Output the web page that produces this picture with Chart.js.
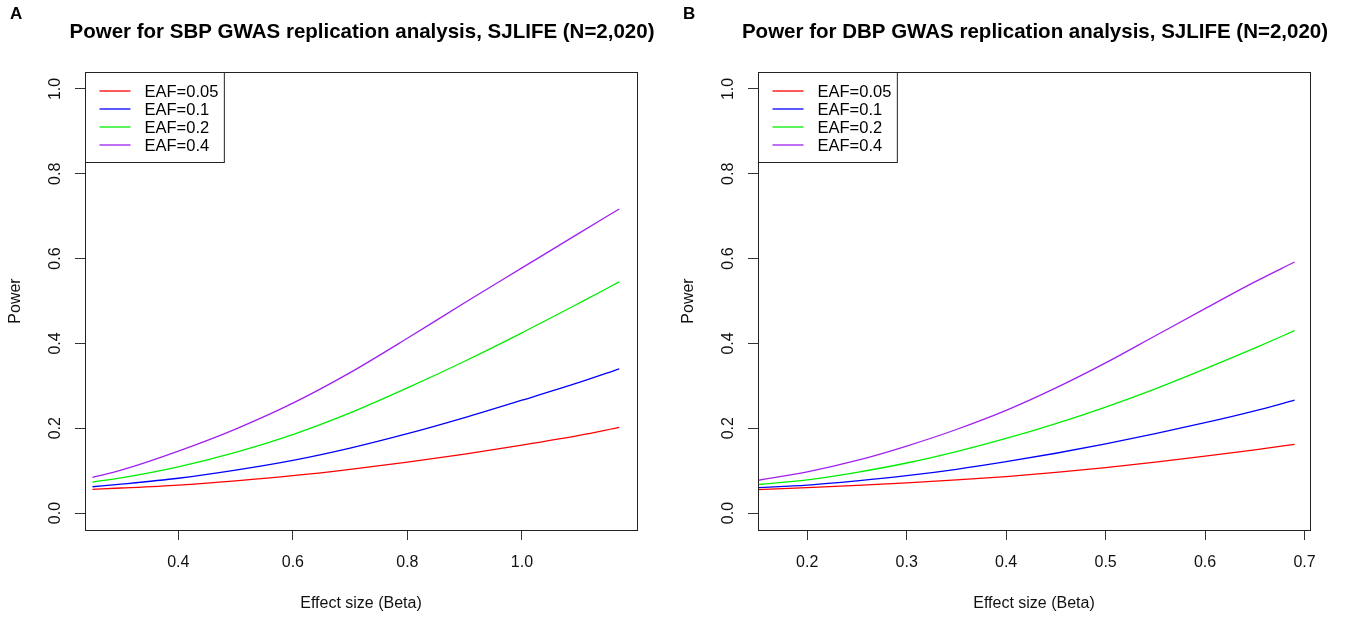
<!DOCTYPE html>
<html>
<head>
<meta charset="utf-8">
<script src="https://cdn.jsdelivr.net/npm/chart.js@4.4.1/dist/chart.umd.min.js"></script>
<style>
  html, body { margin:0; padding:0; background:#fff; }
  .wrap { display:flex; width:1346px; height:617px; }
  canvas { display:block; }
</style>
</head>
<body>
<div class="wrap">
  <canvas id="chartA" width="673" height="617"></canvas>
  <canvas id="chartB" width="673" height="617"></canvas>
</div>
<script>
// === data: panel A (SBP) ===
const betaA = [0.25, 0.3, 0.4, 0.5, 0.6, 0.7, 0.8, 0.9, 1.0, 1.1, 1.17];
const sbpEaf005 = [0.056, 0.059, 0.066, 0.076, 0.088, 0.103, 0.120, 0.139, 0.160, 0.183, 0.202];
const sbpEaf01  = [0.062, 0.068, 0.082, 0.101, 0.124, 0.153, 0.187, 0.225, 0.266, 0.308, 0.340];
const sbpEaf02  = [0.073, 0.083, 0.109, 0.143, 0.185, 0.236, 0.295, 0.358, 0.425, 0.495, 0.545];
const sbpEaf04  = [0.084, 0.101, 0.146, 0.198, 0.259, 0.331, 0.412, 0.496, 0.578, 0.660, 0.717];
const xTicksA = [0.4, 0.6, 0.8, 1.0];

// === data: panel B (DBP) ===
const betaB = [0.15, 0.2, 0.25, 0.3, 0.35, 0.4, 0.45, 0.5, 0.55, 0.6, 0.65, 0.69];
const dbpEaf005 = [0.055, 0.060, 0.065, 0.071, 0.078, 0.086, 0.096, 0.107, 0.120, 0.134, 0.149, 0.162];
const dbpEaf01  = [0.060, 0.066, 0.076, 0.088, 0.103, 0.121, 0.141, 0.163, 0.187, 0.213, 0.241, 0.266];
const dbpEaf02  = [0.067, 0.078, 0.096, 0.118, 0.145, 0.176, 0.211, 0.250, 0.293, 0.340, 0.389, 0.430];
const dbpEaf04  = [0.077, 0.097, 0.124, 0.158, 0.197, 0.242, 0.295, 0.354, 0.418, 0.482, 0.545, 0.592];
const xTicksB = [0.2, 0.3, 0.4, 0.5, 0.6, 0.7];

const yTicks = [0, 0.2, 0.4, 0.6, 0.8, 1.0];
const seriesNames = ["EAF=0.05", "EAF=0.1", "EAF=0.2", "EAF=0.4"];
const seriesColors = ["#ff0000", "#0000ff", "#00ee00", "#a020f0"];

const FONT = "'Liberation Sans', Arial, sans-serif";

// === 外框、標題、圖例 ===
const framePlugin = {
  id: "frame",
  afterDraw(chart, args, opts) {
    const { ctx, chartArea: a } = chart;
    ctx.save();
    ctx.strokeStyle = "#222";
    ctx.lineWidth = 1;
    ctx.strokeRect(Math.round(a.left) + 0.5, Math.round(a.top) + 0.5,
      Math.round(a.right - a.left), Math.round(a.bottom - a.top));

    ctx.fillStyle = "#000";
    ctx.font = "bold 20.5px " + FONT;
    ctx.textAlign = "center";
    ctx.textBaseline = "middle";
    ctx.fillText(opts.title, (a.left + a.right) / 2 + 1, 32);

    ctx.font = "bold 17px " + FONT;
    ctx.textAlign = "left";
    ctx.fillText(opts.letter, 10, 14);

    // legend
    ctx.font = "16.5px " + FONT;
    const sets = chart.data.datasets;
    const maxW = Math.max(...sets.map(d => ctx.measureText(d.label).width));
    const bx = Math.round(a.left) + 0.5, by = Math.round(a.top) + 0.5;
    const bw = 59 + maxW + 6, bh = 90;
    ctx.fillStyle = "#fff";
    ctx.fillRect(bx, by, bw, bh);
    ctx.strokeStyle = "#222";
    ctx.strokeRect(bx, by, bw, bh);
    sets.forEach((d, i) => {
      const yy = by + 18.5 + i * 18;
      ctx.strokeStyle = d.borderColor;
      ctx.lineWidth = 1.3;
      ctx.beginPath();
      ctx.moveTo(bx + 14, yy);
      ctx.lineTo(bx + 45, yy);
      ctx.stroke();
      ctx.fillStyle = "#000";
      ctx.fillText(d.label, bx + 59, yy + 1);
    });
    ctx.restore();
  }
};

function makeChart(id, xs, ys, xTicks, xMin, xMax, title, letter) {
  const datasets = ys.map((arr, i) => ({
    label: seriesNames[i],
    data: xs.map((x, j) => ({ x: x, y: arr[j] })),
    borderColor: seriesColors[i],
    borderWidth: 1.3,
    pointRadius: 0,
    fill: false,
    cubicInterpolationMode: "monotone",
  }));

  return new Chart(document.getElementById(id), {
    type: "line",
    data: { datasets },
    plugins: [framePlugin],
    options: {
      responsive: false,
      animation: false,
      layout: { padding: { top: 72, right: 36, left: 0, bottom: 0 } },
      plugins: {
        legend: { display: false },
        tooltip: { enabled: false },
        frame: { title, letter },
      },
      scales: {
        x: {
          type: "linear",
          min: xMin,
          max: xMax,
          afterBuildTicks: s => { s.ticks = xTicks.map(v => ({ value: v })); },
          afterFit: s => { s.height = 87; },
          ticks: {
            color: "#111",
            font: { family: FONT, size: 16 },
            padding: 13,
            maxRotation: 0,
            callback: v => v.toFixed(1),
          },
          grid: { drawOnChartArea: false, tickLength: 10, color: "#333" },
          border: { display: false },
          title: {
            display: true,
            text: "Effect size (Beta)",
            color: "#111",
            font: { family: FONT, size: 16 },
            padding: { top: 0, bottom: 4 },
          },
        },
        y: {
          type: "linear",
          min: -0.04,
          max: 1.04,
          afterBuildTicks: s => { s.ticks = yTicks.map(v => ({ value: v })); },
          afterFit: s => { s.width = 85; },
          ticks: {
            color: "#111",
            font: { family: FONT, size: 16 },
            padding: 8,
            minRotation: 90,
            maxRotation: 90,
            crossAlign: "center",
            callback: v => v.toFixed(1),
          },
          grid: { drawOnChartArea: false, tickLength: 10, color: "#333" },
          border: { display: false },
          title: {
            display: true,
            text: "Power",
            color: "#111",
            font: { family: FONT, size: 16 },
            padding: { top: 6, bottom: 0 },
          },
        },
      },
    },
  });
}

makeChart("chartA", betaA, [sbpEaf005, sbpEaf01, sbpEaf02, sbpEaf04], xTicksA, 0.237, 1.201,
  "Power for SBP GWAS replication analysis, SJLIFE (N=2,020)", "A");
makeChart("chartB", betaB, [dbpEaf005, dbpEaf01, dbpEaf02, dbpEaf04], xTicksB, 0.1505, 0.7055,
  "Power for DBP GWAS replication analysis, SJLIFE (N=2,020)", "B");
</script>
</body>
</html>
